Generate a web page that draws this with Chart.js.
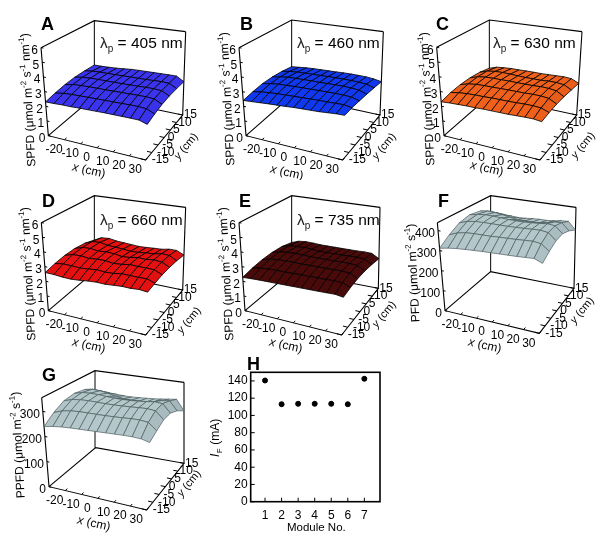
<!DOCTYPE html>
<html><head><meta charset="utf-8">
<script src="https://cdn.jsdelivr.net/npm/chart.js@4"></script>
<style>html,body{margin:0;padding:0;background:#fff;width:600px;height:535px;overflow:hidden}
canvas{position:absolute}</style></head><body>
<script>
const FONT = '"Liberation Sans", Arial, sans-serif';
const xTicks = [-20,-10,0,10,20,30];
const yTicks = [-15,-10,-5,0,5,10,15];
const xGrid = [-30,-25,-20,-15,-10,-5,0,5,10,15,20,25,30];
const yGrid = [-15,-9,-3,3,9,15];
const spfdTicks = [0,1,2,3,4,5,6];
const pfdTicks = [0,100,200,300,400];
const ppfdTicks = [0,100,200,300];
const moduleNo = [1,2,3,4,5,6,7];
const forwardCurrent = [140.5,113,113.5,113.5,113.5,113,142.5];

const zA = [
[2.30,2.31,2.33,2.33,2.35,2.36,2.37,2.38,2.38,2.38,2.38,2.37,2.21],
[2.44,2.53,2.57,2.58,2.59,2.60,2.61,2.61,2.62,2.63,2.63,2.59,2.36],
[2.55,2.67,2.71,2.72,2.73,2.73,2.74,2.75,2.76,2.77,2.77,2.73,2.47],
[2.60,2.70,2.74,2.75,2.75,2.75,2.76,2.77,2.78,2.80,2.80,2.76,2.50],
[2.57,2.65,2.68,2.68,2.69,2.70,2.71,2.72,2.73,2.75,2.77,2.74,2.47],
[2.50,2.50,2.52,2.55,2.60,2.65,2.67,2.68,2.69,2.70,2.71,2.71,2.40]];
const zB = [
[2.40,2.44,2.48,2.52,2.55,2.58,2.62,2.64,2.66,2.68,2.72,2.76,2.77],
[2.52,2.62,2.68,2.72,2.74,2.76,2.78,2.80,2.82,2.82,2.84,2.85,2.76],
[2.60,2.71,2.78,2.81,2.83,2.85,2.86,2.87,2.88,2.89,2.88,2.85,2.70],
[2.58,2.70,2.78,2.80,2.82,2.83,2.83,2.85,2.86,2.87,2.85,2.80,2.62],
[2.48,2.58,2.64,2.66,2.68,2.70,2.72,2.74,2.74,2.74,2.72,2.68,2.52],
[2.30,2.36,2.42,2.46,2.48,2.50,2.52,2.55,2.56,2.56,2.55,2.50,2.40]];
const zC = [
[2.30,2.34,2.36,2.38,2.38,2.40,2.40,2.40,2.40,2.42,2.44,2.44,2.38],
[2.46,2.56,2.61,2.63,2.63,2.65,2.65,2.65,2.66,2.68,2.68,2.64,2.45],
[2.53,2.69,2.77,2.79,2.79,2.80,2.81,2.81,2.81,2.83,2.82,2.76,2.49],
[2.52,2.71,2.79,2.81,2.81,2.82,2.81,2.81,2.81,2.84,2.82,2.75,2.45],
[2.42,2.62,2.70,2.72,2.70,2.68,2.66,2.66,2.66,2.70,2.70,2.64,2.37],
[2.20,2.38,2.44,2.48,2.48,2.50,2.50,2.50,2.52,2.54,2.56,2.52,2.28]];
const zD = [
[2.60,2.58,2.52,2.50,2.54,2.60,2.64,2.62,2.66,2.70,2.68,2.72,2.66],
[2.76,2.84,2.82,2.78,2.82,2.88,2.83,2.85,2.93,2.92,2.90,2.92,2.73],
[2.86,3.02,3.04,2.96,3.02,3.02,2.93,2.97,3.06,3.03,3.03,3.01,2.78],
[2.87,3.06,3.09,3.00,3.04,3.01,2.91,2.95,3.04,3.01,3.08,3.02,2.76],
[2.76,3.00,3.04,2.92,2.88,2.84,2.78,2.80,2.86,2.88,3.00,2.96,2.68],
[2.50,2.78,2.82,2.72,2.68,2.64,2.60,2.62,2.66,2.68,2.78,2.78,2.54]];
const zE = [
[2.27,2.30,2.32,2.33,2.34,2.35,2.36,2.37,2.38,2.39,2.40,2.42,2.34],
[2.44,2.55,2.59,2.61,2.61,2.62,2.63,2.63,2.65,2.65,2.67,2.65,2.45],
[2.55,2.70,2.76,2.78,2.78,2.77,2.78,2.78,2.78,2.80,2.80,2.76,2.50],
[2.58,2.74,2.80,2.82,2.81,2.78,2.78,2.78,2.78,2.80,2.80,2.76,2.47],
[2.52,2.68,2.72,2.74,2.70,2.66,2.66,2.66,2.66,2.68,2.70,2.66,2.36],
[2.30,2.50,2.56,2.54,2.50,2.50,2.50,2.50,2.50,2.50,2.52,2.50,2.20]];
const zF = [
[312,320,325,328,330,332,333,334,335,336,338,340,324],
[350,366,374,376,376,376,378,379,380,382,384,378,348],
[382,396,402,403,403,402,402,403,404,406,407,401,367],
[395,403,407,406,403,400,399,399,401,404,408,403,369],
[384,390,388,382,374,368,366,366,368,374,384,386,349],
[343,346,342,340,338,340,344,346,346,350,356,358,317]];
const zG = [
[240,246,250,252,253,254,255,256,257,258,258,256,248],
[272,284,290,292,292,292,292,293,294,296,296,292,265],
[296,307,311,312,311,310,310,311,312,314,315,311,281],
[303,312,314,313,310,308,307,308,310,313,317,314,280],
[295,301,299,293,285,279,277,277,279,285,295,298,261],
[266,264,262,260,258,258,260,262,264,268,272,276,230]];

// Box frames in 3x-zoomed panel units: front-left, front-right, back-right, back-left, each [x,y] bottom then top.
const panels = [
 {id:'A',ox:0,oy:0,grid:zA,col:[58,52,240],line:'#000',lw:0.8,zMax:6,zt:spfdTicks,
  box:[[145,407],[123,143],[437,480],[450,190],[548,345],[557,95],[283,290],[283,62]],
  letter:[41,30],lam:[100,48,'405'],lab:[28,100],xl:[89,170],yl:[187,144],
  runs:[['SPFD (μmol m'],['-2',1],[' s'],['-1',1],[' nm'],['-1',1],[')']]},
 {id:'B',ox:200,oy:0,grid:zB,col:[16,56,240],line:'#000',lw:0.8,zMax:6,zt:spfdTicks,
  box:[[138,407],[117,143],[428,480],[441,190],[540,345],[550,95],[275,287],[275,60]],
  letter:[40,30],lam:[97,48,'460'],lab:[27,99],xl:[87,172],yl:[185,144],
  runs:[['SPFD (μmol m'],['-2',1],[' s'],['-1',1],[' nm'],['-1',1],[')']]},
 {id:'C',ox:400,oy:0,grid:zC,col:[240,96,26],line:'#000',lw:0.8,zMax:6,zt:spfdTicks,
  box:[[132,407],[110,142],[420,480],[433,190],[530,345],[546,95],[268,288],[268,60]],
  letter:[36,30],lam:[93,48,'630'],lab:[27,99],xl:[87,168],yl:[184,143],
  runs:[['SPFD (μmol m'],['-2',1],[' s'],['-1',1],[' nm'],['-1',1],[')']]},
 {id:'D',ox:0,oy:180,grid:zD,col:[232,16,16],line:'#000',lw:0.8,zMax:6,zt:spfdTicks,
  box:[[145,392],[124,128],[437,465],[450,175],[548,330],[557,82],[283,275],[283,47]],
  letter:[42,27],lam:[100,45,'660'],lab:[28,94],xl:[89,165],yl:[190,138],
  runs:[['SPFD (μmol m'],['-2',1],[' s'],['-1',1],[' nm'],['-1',1],[')']]},
 {id:'E',ox:200,oy:180,grid:zE,col:[74,10,10],line:'#000',lw:0.8,zMax:6,zt:spfdTicks,
  box:[[135,392],[117,128],[425,465],[438,175],[535,325],[540,82],[275,275],[275,47]],
  letter:[39,27],lam:[97,45,'735'],lab:[26,94],xl:[86,165],yl:[185,132],
  runs:[['SPFD (μmol m'],['-2',1],[' s'],['-1',1],[' nm'],['-1',1],[')']]},
 {id:'F',ox:400,oy:180,grid:zF,col:[180,200,204],line:'#4e5c5e',lw:0.7,zMax:440,zt:pfdTicks,
  box:[[135,392],[112,128],[418,460],[431,175],[522,325],[528,82],[272,275],[272,47]],
  letter:[38,27],lab:[13,93],xl:[85,165],yl:[183,128],
  runs:[['PFD (μmol m'],['-2',1],[' s'],['-1',1],[')']]},
 {id:'G',ox:0,oy:355,grid:zG,col:[180,200,204],line:'#4e5c5e',lw:0.7,zMax:355,zt:ppfdTicks,
  box:[[147,395],[125,128],[440,465],[453,175],[552,325],[552,82],[287,278],[285,47]],
  letter:[42,26],lab:[18,90],xl:[94,168],yl:[190,126],
  runs:[['PPFD (μmol m'],['-2',1],[' s'],['-1',1],[')']]}
];

function projector(p){
  const b=p.box.map(c=>[c[0]/3,c[1]/3]);
  return (x,y,z)=>{
    const u=(x+30)/60,v=(y+15)/30,w=z/p.zMax,out=[0,0];
    for(let k=0;k<2;k++){
      const bot=(1-u)*(1-v)*b[0][k]+u*(1-v)*b[2][k]+u*v*b[4][k]+(1-u)*v*b[6][k];
      const top=(1-u)*(1-v)*b[1][k]+u*(1-v)*b[3][k]+u*v*b[5][k]+(1-u)*v*b[7][k];
      out[k]=bot*(1-w)+top*w;
    }
    return {x:out[0],y:out[1]};
  };
}
function lineSet(pts,color,w){
  return {data:pts,showLine:true,borderColor:color,borderWidth:w,pointRadius:0,fill:false,tension:0,clip:false};
}
function build(p){
  const P=projector(p),sets=[],z0=0,zT=p.zMax;
  const black='#000';
  sets.push(lineSet([P(-30,-15,zT),P(-30,15,zT),P(30,15,zT)],black,1.1));
  sets.push(lineSet([P(-30,15,z0),P(-30,15,zT)],black,1));
  sets.push(lineSet([P(30,15,z0),P(30,15,zT)],black,1.1));
  sets.push(lineSet([P(-30,-15,zT),P(-30,-15,z0),P(30,-15,z0),P(30,15,z0),P(-30,15,z0),P(-30,-15,z0)],black,1.1));
  xTicks.forEach(t=>sets.push(lineSet([P(t,-15,z0),P(t,-13.6,z0)],black,1)));
  yTicks.forEach(t=>sets.push(lineSet([P(30,t,z0),P(27,t,z0)],black,1)));
  p.zt.forEach(t=>sets.push(lineSet([P(-30,-15,t),P(-28.6,-15,t)],black,1)));
  const g=p.grid;
  for(let j=g.length-2;j>=0;j--){
    for(let i=0;i<xGrid.length-1;i++){
      const a=P(xGrid[i],yGrid[j],g[j][i]),b=P(xGrid[i+1],yGrid[j],g[j][i+1]),
            c=P(xGrid[i+1],yGrid[j+1],g[j+1][i+1]),d=P(xGrid[i],yGrid[j+1],g[j+1][i]);
      const s=lineSet([a,b,c,d,a],p.line,p.lw);
      const dzx=((g[j][i+1]+g[j+1][i+1])-(g[j][i]+g[j+1][i]))/2/p.zMax*6;
      const f=Math.max(0.9,1-Math.abs(dzx)*0.12);
      s.backgroundColor=`rgb(${p.col.map(v=>Math.round(v*f)).join(',')})`;
      s.fill='shape';
      sets.push(s);
    }
  }
  return sets.reverse();
}
function runsWidth(ctx,runs,fs,ss){
  let w=0;runs.forEach(r=>{ctx.font=(r[1]?ss:fs)+'px '+FONT;w+=ctx.measureText(r[0]).width;});return w;
}
function panelText(p){
  const P=projector(p);
  return {id:'panelText',afterDraw(chart){
    const ctx=chart.ctx,X=chart.scales.x,Y=chart.scales.y;
    const pos=(q)=>({x:X.getPixelForValue(q.x),y:Y.getPixelForValue(q.y)});
    ctx.save();ctx.fillStyle='#000';ctx.textBaseline='middle';
    ctx.font='12px '+FONT;
    ctx.textAlign='center';
    xTicks.forEach(t=>{const q=pos(P(t,-15,0));ctx.fillText(String(t),q.x-10.5,q.y+10);});
    ctx.textAlign='left';
    yTicks.forEach(t=>{const q=pos(P(30,t,0));ctx.fillText(String(t),q.x+6-(t+15)/30*5,q.y);});
    ctx.textAlign='right';
    p.zt.forEach(t=>{const q=pos(P(-30,-15,t));ctx.fillText(String(t),q.x-3,q.y+3);});
    ctx.textAlign='left';ctx.textBaseline='alphabetic';
    ctx.font='bold 18px '+FONT;ctx.fillText(p.id,p.letter[0],p.letter[1]);
    if(p.lam){
      let lx=p.lam[0];const ly=p.lam[1];
      ctx.font='15.5px '+FONT;ctx.fillStyle='#222';ctx.fillText('λ',lx,ly);lx+=ctx.measureText('λ').width;
      ctx.font='10px '+FONT;ctx.fillText('p',lx,ly+4);lx+=ctx.measureText('p').width;
      ctx.font='15.5px '+FONT;ctx.fillStyle='#000';ctx.fillText(' = '+p.lam[2]+' nm',lx,ly);
    }
    ctx.save();ctx.translate(p.lab[0],p.lab[1]);ctx.rotate(-93*Math.PI/180);
    const tw=runsWidth(ctx,p.runs,12,8);let cx=-tw/2;
    p.runs.forEach(r=>{ctx.font=(r[1]?8:12)+'px '+FONT;ctx.fillText(r[0],cx,r[1]?-1:4);cx+=ctx.measureText(r[0]).width;});
    ctx.restore();
    ctx.save();ctx.translate(p.xl[0],p.xl[1]);ctx.rotate(13*Math.PI/180);
    ctx.font='italic 12px '+FONT;const xw=ctx.measureText('x').width;ctx.font='12px '+FONT;const cw=ctx.measureText(' (cm)').width;
    ctx.font='italic 12px '+FONT;ctx.fillText('x',-(xw+cw)/2,4);ctx.font='12px '+FONT;ctx.fillText(' (cm)',-(xw+cw)/2+xw,4);
    ctx.restore();
    ctx.save();ctx.translate(p.yl[0],p.yl[1]);ctx.rotate(-50*Math.PI/180);
    ctx.font='italic 11px '+FONT;const yw=ctx.measureText('y').width;
    ctx.fillText('y',-(yw+30)/2,4);ctx.font='11px '+FONT;ctx.fillText(' (cm)',-(yw+30)/2+yw,4);
    ctx.restore();
    ctx.restore();
  }};
}
function addCanvas(x,y,w,h){
  const c=document.createElement('canvas');c.width=w;c.height=h;c.style.left=x+'px';c.style.top=y+'px';c.style.width=w+'px';c.style.height=h+'px';
  document.body.appendChild(c);return c;
}
panels.forEach(p=>{
  const c=addCanvas(p.ox,p.oy,215,180);
  new Chart(c,{type:'scatter',data:{datasets:build(p)},
    options:{responsive:false,animation:false,events:[],layout:{padding:0},
      plugins:{legend:{display:false},tooltip:{enabled:false}},
      scales:{x:{type:'linear',display:false,min:0,max:215},y:{type:'linear',display:false,min:0,max:180,reverse:true}}},
    plugins:[panelText(p)]});
});
const hc=addCanvas(210,355,190,180);
new Chart(hc,{type:'scatter',
  data:{datasets:[{data:moduleNo.map((m,i)=>({x:m,y:forwardCurrent[i]})),backgroundColor:'#000',borderColor:'#000',pointRadius:2.5,showLine:false,clip:false}]},
  options:{responsive:false,animation:false,events:[],
    layout:{padding:{top:17.3,right:20,left:0,bottom:0}},
    plugins:{legend:{display:false},tooltip:{enabled:false}},
    scales:{
      x:{type:'linear',min:0.134,max:7.946,
        afterFit(s){s.height=33.3;},
        grid:{display:false,drawTicks:false},
        border:{display:false},
        ticks:{stepSize:1,includeBounds:false,color:'#000',font:{family:FONT,size:12},padding:7,maxRotation:0,autoSkip:false}},
      y:{type:'linear',min:0,max:150,
        afterFit(s){s.width=40.7;},
        grid:{display:false,drawTicks:false},
        border:{display:false},
        ticks:{stepSize:20,includeBounds:false,color:'#000',font:{family:FONT,size:12},padding:3,autoSkip:false}}
    }},
  plugins:[{id:'hFrame',afterDraw(chart){
    const ctx=chart.ctx,a=chart.chartArea,sx=chart.scales.x,sy=chart.scales.y;
    ctx.save();ctx.strokeStyle='#000';ctx.lineWidth=1.6;ctx.strokeRect(a.left,a.top,a.right-a.left,a.bottom-a.top);
    ctx.lineWidth=1;ctx.beginPath();
    sx.ticks.forEach(t=>{const v=sx.getPixelForValue(t.value);ctx.moveTo(v,a.bottom);ctx.lineTo(v,a.bottom-4);});
    sy.ticks.forEach(t=>{const v=sy.getPixelForValue(t.value);ctx.moveTo(a.left,v);ctx.lineTo(a.left+4,v);});
    ctx.stroke();
    ctx.fillStyle='#000';ctx.textAlign='left';ctx.textBaseline='alphabetic';
    ctx.font='bold 18px '+FONT;ctx.fillText('H',37,15);
    ctx.font='11.5px '+FONT;ctx.textAlign='center';ctx.fillText('Module No.',(a.left+a.right)/2+1,176);
    ctx.translate(9,82);ctx.rotate(-Math.PI/2);ctx.textAlign='left';
    ctx.font='italic 12px '+FONT;ctx.fillText('I',-20,0);
    ctx.font='7.5px '+FONT;ctx.fillText('F',-16,3);
    ctx.font='12px '+FONT;ctx.fillText(' (mA)',-11,0);
    ctx.restore();
  }}]});
</script></body></html>
